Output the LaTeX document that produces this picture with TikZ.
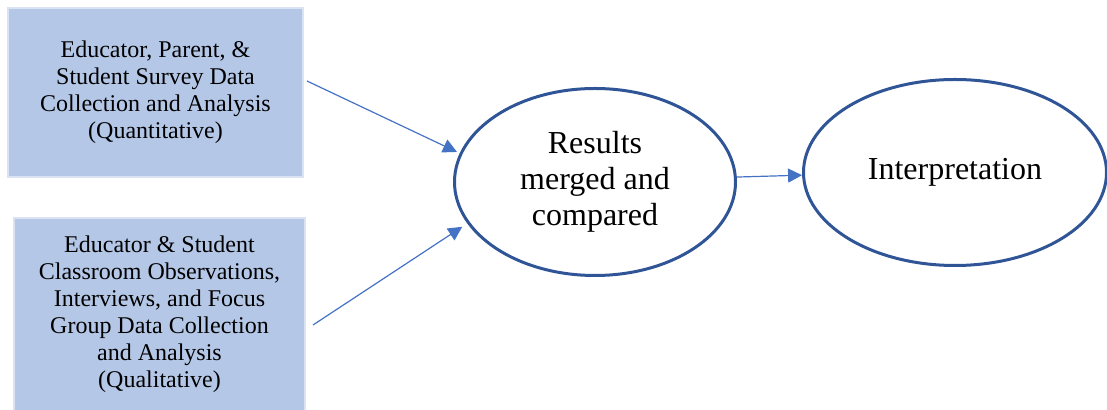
\documentclass[tikz,border=0pt]{standalone}
\usepackage{fontspec}
\setmainfont{Liberation Serif}
\usetikzlibrary{arrows.meta,positioning,shapes.geometric}
\definecolor{boxfill}{HTML}{B4C7E7}
\definecolor{boxline}{HTML}{DAE3F3}
\definecolor{ovalline}{HTML}{2F5597}
\definecolor{arrblue}{HTML}{4472C4}

\begin{document}
\begin{tikzpicture}[x=0.5pt, y=-0.5pt,
  srcbox/.style={draw=boxline, fill=boxfill, line width=1pt, align=center, inner sep=0pt, font=\fontsize{12}{13.5}\selectfont},
  oval/.style={ellipse, draw=ovalline, line width=1.5pt, align=center, inner sep=0pt, font=\fontsize{16}{18}\selectfont},
  arr/.style={-{Triangle[length=7pt,width=7pt]}, draw=arrblue, line width=0.6pt},
]
  \useasboundingbox (0,0) rectangle (1107,410);
  \node[srcbox, minimum width=147.5pt, minimum height=84.5pt] (survey) at (155.5,92.5) {Educator, Parent, \&\\ Student Survey Data\\ Collection and Analysis\\ (Quantitative)};
  \node[srcbox, minimum width=145.5pt, minimum height=96.5pt, below=19.5pt of survey, xshift=2pt] (qual) {Educator \& Student\\ Classroom Observations,\\ Interviews, and Focus\\ Group Data Collection\\ and Analysis\\ (Qualitative)};
  \node[oval, minimum width=140.5pt, minimum height=93.5pt] (merge) at (595,182) {Results\\ merged and\\ compared};
  \node[oval, minimum width=151.5pt, minimum height=93pt, right=32.5pt of merge, yshift=4.75pt] (interp) {Interpretation};

  \draw[arr, shorten >=1.5pt] ([xshift=1.5pt,yshift=5.75pt]survey.east) -- (merge.168.6);
  \draw[arr, shorten >=3pt] ([xshift=3.5pt,yshift=-5.25pt]qual.east) -- (merge.198.4);
  \draw[arr] (merge.2.4) -- (interp.181);
\end{tikzpicture}
\end{document}
